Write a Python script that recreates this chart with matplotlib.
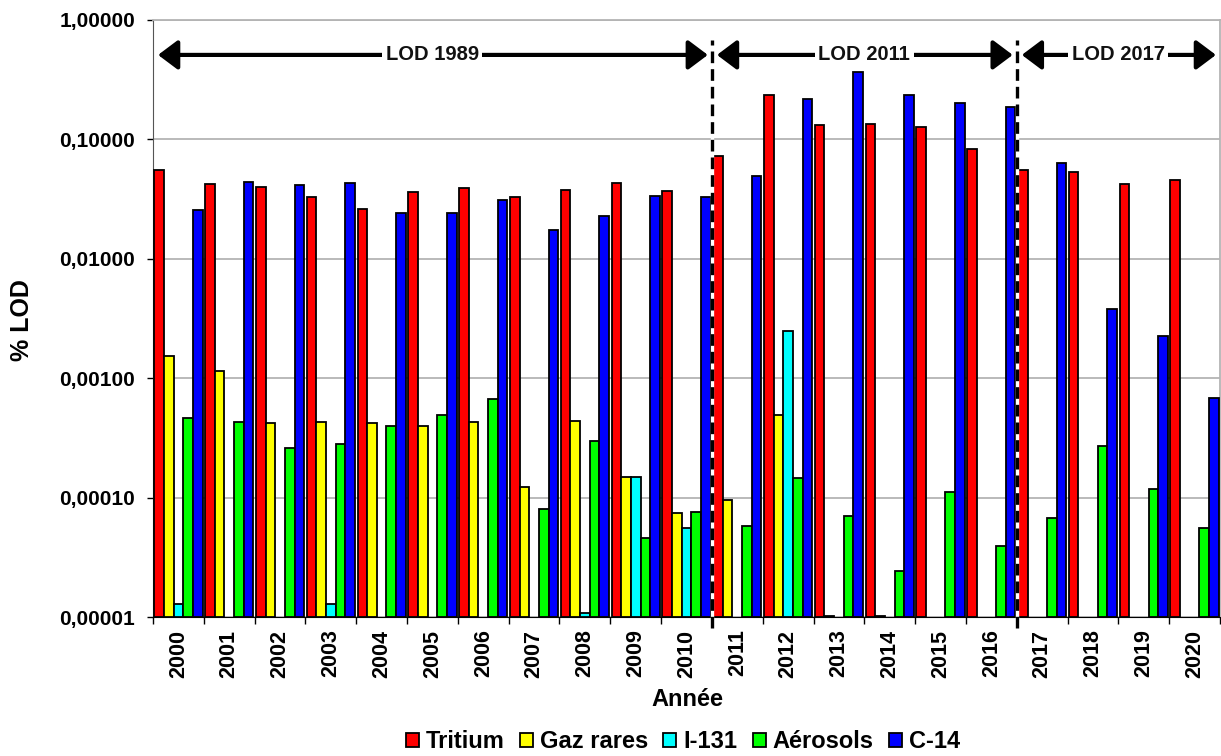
import numpy as np
import matplotlib.pyplot as plt
from matplotlib.ticker import FixedLocator, FixedFormatter, NullFormatter

plt.rcParams['font.family'] = ['Liberation Sans', 'DejaVu Sans']

nan = np.nan
years = [str(y) for y in range(2000, 2021)]

tritium = [0.055, 0.042, 0.040, 0.033, 0.026, 0.036, 0.039, 0.033, 0.038, 0.043, 0.037,
           0.072, 0.234, 0.131, 0.134, 0.128, 0.083, 0.055, 0.053, 0.042, 0.046]
gaz_rares = [1.53e-3, 1.15e-3, 4.2e-4, 4.3e-4, 4.2e-4, 3.95e-4, 4.3e-4, 1.23e-4, 4.4e-4, 1.5e-4, 7.5e-5,
             9.5e-5, 4.9e-4, 1.02e-5, 1.02e-5, nan, nan, nan, nan, nan, nan]
i131 = [1.28e-5, nan, nan, 1.28e-5, nan, nan, nan, nan, 1.09e-5, 1.5e-4, 5.6e-5,
        nan, 2.5e-3, nan, nan, nan, nan, nan, nan, nan, nan]
aerosols = [4.6e-4, 4.3e-4, 2.6e-4, 2.8e-4, 3.95e-4, 4.95e-4, 6.7e-4, 8.0e-5, 3.0e-4, 4.6e-5, 7.6e-5,
            5.8e-5, 1.47e-4, 7.0e-5, 2.44e-5, 1.12e-4, 3.9e-5, 6.7e-5, 2.72e-4, 1.17e-4, 5.6e-5]
c14 = [0.0256, 0.0442, 0.0412, 0.0434, 0.0243, 0.0243, 0.0313, 0.0174, 0.0228, 0.0336, 0.0327,
       0.0494, 0.219, 0.369, 0.234, 0.200, 0.188, 0.063, 0.00378, 0.00226, 6.78e-4]

series = [('Tritium', tritium, '#ff0000'),
          ('Gaz rares', gaz_rares, '#ffff00'),
          ('I-131', i131, '#00ffff'),
          ('Aérosols', aerosols, '#00ff00'),
          ('C-14', c14, '#0000ff')]

yticks = [1e-5, 1e-4, 1e-3, 1e-2, 1e-1, 1.0]
ytick_labels = ['0,00001', '0,00010', '0,00100', '0,01000', '0,10000', '1,00000']

# LOD periods: (label, first year index, last year index)
periods = [('LOD 1989', 0, 10), ('LOD 2011', 11, 16), ('LOD 2017', 17, 20)]

ymin = 1e-5
fig = plt.figure(figsize=(12.21, 7.56), dpi=100)
ax = fig.add_axes([153/1221, 1-617/756, 1067/1221, 597/756])
ax.set_yscale('log')

x = np.arange(len(years))
w = 0.19
for i, (name, vals, col) in enumerate(series):
    v = np.array(vals, dtype=float)
    m = ~np.isnan(v)
    xs = x + (i - 2) * w
    ax.bar(xs[m], v[m] - ymin, bottom=ymin, width=w, color=col,
           edgecolor='black', linewidth=1.3, label=name, zorder=3)

ax.set_xlim(-0.5, len(years) - 0.5)
ax.set_ylim(ymin, 1.0)

ax.yaxis.set_major_locator(FixedLocator(yticks))
ax.yaxis.set_major_formatter(FixedFormatter(ytick_labels))
ax.yaxis.set_minor_locator(FixedLocator([]))
ax.yaxis.set_minor_formatter(NullFormatter())
ax.tick_params(axis='y', which='major', length=4.5, width=1, pad=8.5, labelsize=15)
for t in ax.get_yticklabels():
    t.set_fontweight('bold')

ax.set_xticks(x)
ax.set_xticklabels(years, rotation=90, fontsize=15.5, fontweight='bold')
ax.set_xticks(np.arange(-0.5, len(years)), minor=True)
ax.tick_params(axis='x', which='major', length=0, pad=9)
ax.tick_params(axis='x', which='minor', length=5, width=1, direction='out')

ax.grid(axis='y', which='major', color='#b4b4b4', linewidth=1.3, zorder=0)
ax.set_axisbelow(True)
for s in ['top', 'right']:
    ax.spines[s].set_color('#b4b4b4')
    ax.spines[s].set_linewidth(1.3)
ax.spines['left'].set_color('#555555')
ax.spines['bottom'].set_color('black')

# period arrows and separators
yarr = 0.51
for label, a, b in periods:
    left, right = a - 0.5, b + 0.5
    ax.annotate('', xy=(left + 0.1, yarr), xytext=(right - 0.08, yarr),
                arrowprops=dict(arrowstyle='<|-|>,head_length=0.6,head_width=0.45',
                                lw=3, color='black', shrinkA=0, shrinkB=0, mutation_scale=20),
                zorder=5)
    ax.text((left + right) / 2, yarr, label, ha='center', va='center', fontsize=14.5,
            fontweight='bold', color='#111111',
            bbox=dict(facecolor='white', edgecolor='none', pad=2.5), zorder=6)

for a in [p[1] for p in periods[1:]]:
    xb = a - 0.5
    ax.plot([xb, xb], [-0.018, 0.966], transform=ax.get_xaxis_transform(), color='white',
            lw=2.4, clip_on=False, zorder=6)
    ax.plot([xb, xb], [-0.018, 0.966], transform=ax.get_xaxis_transform(), color='black',
            lw=2.4, dashes=(3.5, 1.8), clip_on=False, zorder=7)

fig.text(22/1221, 1-320/756, '% LOD', rotation=90, ha='center', va='center',
         fontsize=18, fontweight='bold')
fig.text(687/1221, 1-699/756, 'Année', ha='center', va='center', fontsize=17, fontweight='bold')

leg = fig.legend(loc='center', bbox_to_anchor=(683/1221, 1-742/756), ncol=5, frameon=False,
                 handlelength=0.55, handleheight=0.55, handletextpad=0.3, columnspacing=0.64,
                 borderpad=0, prop={'size': 17, 'weight': 'bold'})
for h in leg.legend_handles:
    h.set_linewidth(1.3)

fig.savefig('out.png', dpi=100)
